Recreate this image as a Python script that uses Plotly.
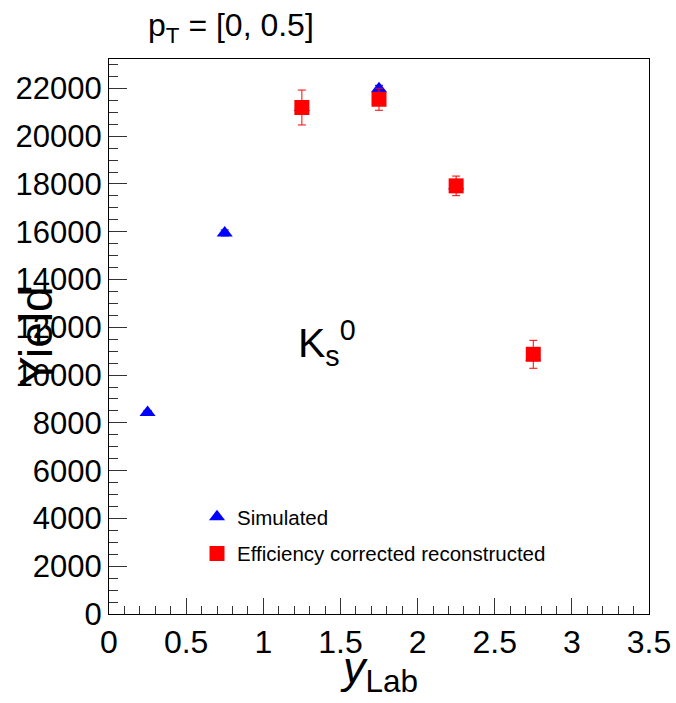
import plotly.graph_objects as go

# Data
y_lab_sim = [0.25, 0.75, 1.25, 1.75, 2.25, 2.75]
yield_sim = [8430, 15950, 21200, 21980, 17920, 10760]
yield_sim_err = [90, 125, 145, 148, 134, 104]

y_lab_rec = [1.25, 1.75, 2.25, 2.75]
yield_rec = [21200, 21545, 17920, 10870]
yield_rec_err = [730, 460, 410, 585]

x_ticks = [0, 0.5, 1, 1.5, 2, 2.5, 3, 3.5]
x_ticklabels = ["0", "0.5", "1", "1.5", "2", "2.5", "3", "3.5"]
y_ticks = [0, 2000, 4000, 6000, 8000, 10000, 12000, 14000, 16000, 18000, 20000, 22000]
y_ticklabels = ["0", "2000", "4000", "6000", "8000", "10000", "12000", "14000",
                "16000", "18000", "20000", "22000"]

FONT = "Liberation Sans, Arial, sans-serif"

fig = go.Figure()
fig.add_trace(go.Scatter(
    x=y_lab_sim, y=yield_sim, mode="markers", name="Simulated",
    marker=dict(symbol="triangle-up", size=14, color="#0000ff"),
    error_y=dict(type="data", array=yield_sim_err, color="#0000ff", thickness=1, width=4),
    legendgroup="a",
))
fig.add_trace(go.Scatter(
    x=y_lab_rec, y=yield_rec, mode="markers", name="Efficiency corrected reconstructed",
    marker=dict(symbol="square", size=15, color="#ff0000"),
    error_y=dict(type="data", array=yield_rec_err, color="#ff0000", thickness=1, width=4),
    legendgroup="b",
))

axis_common = dict(
    showline=True, linecolor="#000000", linewidth=1, mirror=True,
    showgrid=False, zeroline=False, ticks="inside", tickcolor="#333333",
    automargin=False,
)
fig.update_xaxes(range=[0, 3.5], tickvals=x_ticks, ticktext=x_ticklabels, ticklen=16,
                 tickfont=dict(family=FONT, size=32, color="#000000"),
                 minor=dict(ticks="inside", ticklen=8, dtick=0.1, tickcolor="#333333"),
                 **axis_common)
fig.update_yaxes(range=[0, 23230], tickvals=y_ticks, ticktext=y_ticklabels, ticklen=18,
                 tickfont=dict(family=FONT, size=31, color="#000000"),
                 minor=dict(ticks="inside", ticklen=9, dtick=500, tickcolor="#333333"),
                 **axis_common)

W, H = 676, 703
L, R, T, B = 109, 27, 59, 89
pw, ph = W - L - R, H - T - B

def px(xp):
    return (xp - L) / pw

def py(yp):
    return (H - B - yp) / ph

annotations = [
    dict(text="p<sub>T</sub> = [0, 0.5]", x=px(231), y=py(28), xref="paper", yref="paper",
         showarrow=False, font=dict(family=FONT, size=32, color="#000000"),
         xanchor="center", yanchor="middle"),
    dict(text="Yield", x=px(36), y=py(337), xref="paper", yref="paper", textangle=-90,
         showarrow=False, font=dict(family=FONT, size=46, color="#000000"),
         xanchor="center", yanchor="middle"),
    dict(text="K<sub>s</sub><sup>0</sup>", x=px(327), y=py(343), xref="paper", yref="paper",
         showarrow=False, font=dict(family=FONT, size=41, color="#000000"),
         xanchor="center", yanchor="middle"),
    dict(text="<i>y</i><sub>Lab</sub>", x=px(379), y=py(670), xref="paper", yref="paper",
         showarrow=False, font=dict(family=FONT, size=45, color="#000000"),
         xanchor="center", yanchor="middle"),
]

fig.update_layout(
    width=W, height=H,
    margin=dict(l=L, r=R, t=T, b=B),
    paper_bgcolor="white", plot_bgcolor="white",
    showlegend=True,
    legend=dict(x=px(197), y=py(497), xanchor="left", yanchor="top",
                font=dict(family=FONT, size=20.5, color="#000000"),
                bgcolor="rgba(0,0,0,0)", tracegroupgap=7, itemsizing="trace"),
    annotations=annotations,
)

fig.write_html("out.html")
